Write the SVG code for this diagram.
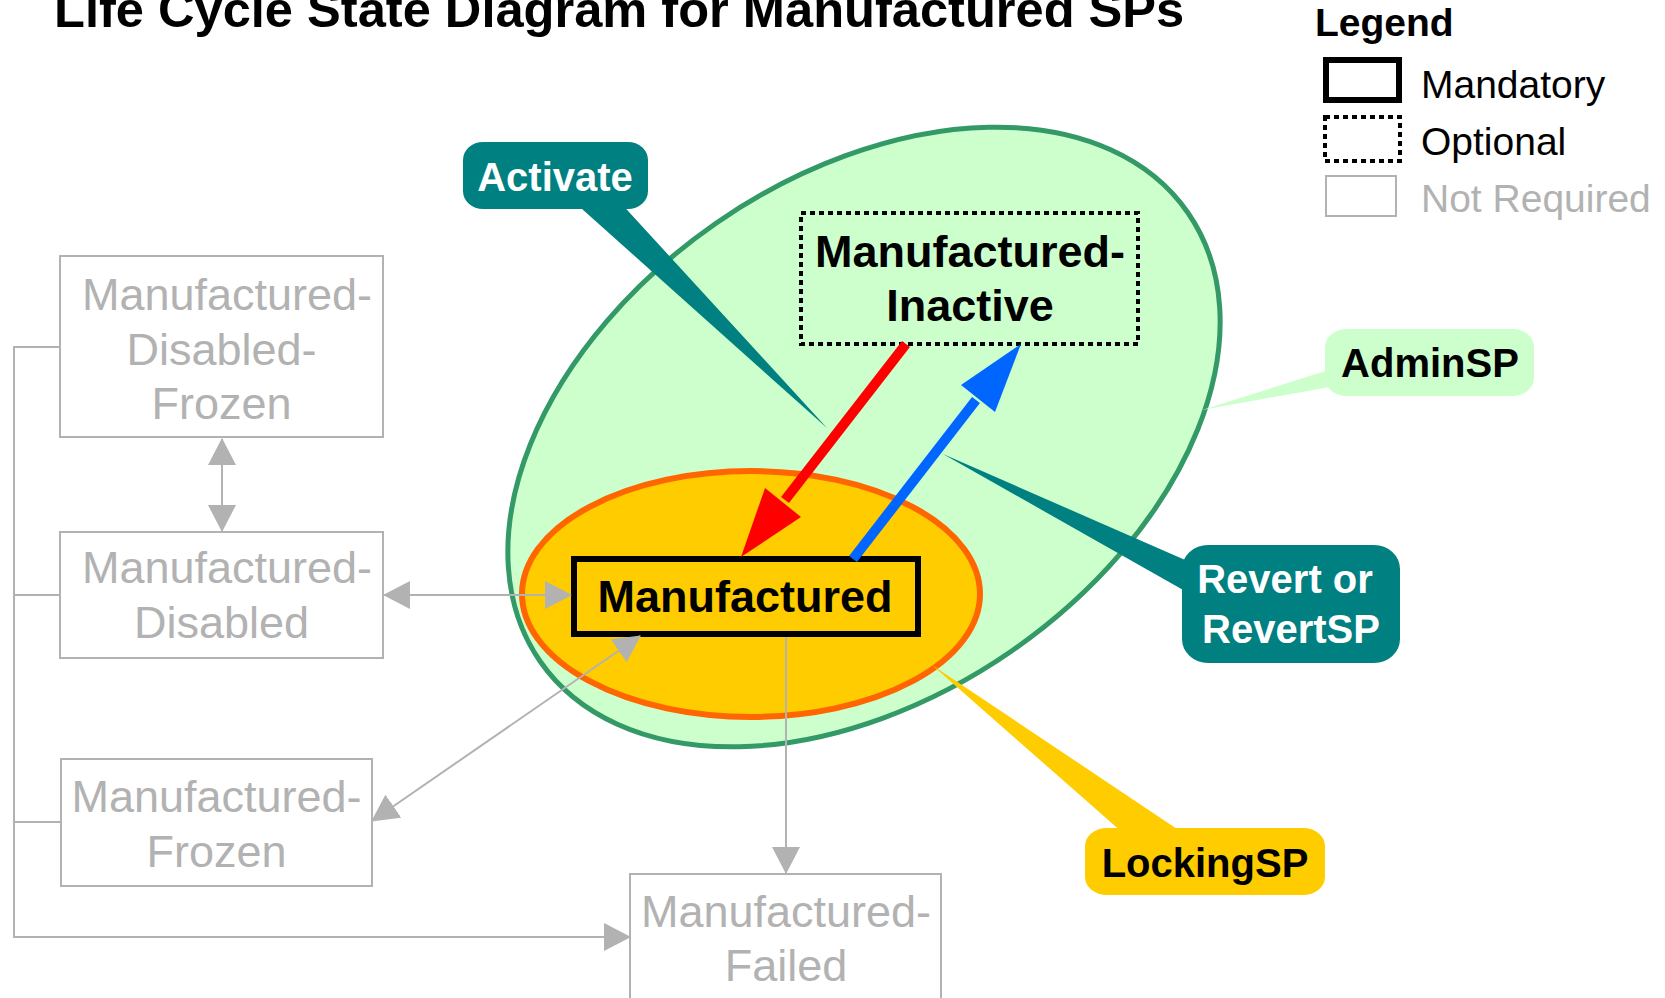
<svg xmlns="http://www.w3.org/2000/svg" width="1665" height="998" viewBox="0 0 1665 998">
<style>
text{font-family:"Liberation Sans",Arial,sans-serif}
.b{font-weight:bold}
.g{fill:#B2B2B2;font-size:45px;text-anchor:middle}
.gbox{fill:#FFFFFF;stroke:#B2B2B2;stroke-width:2}
.gl{fill:none;stroke:#B2B2B2;stroke-width:2}
.cw{fill:#FFFFFF;font-size:40px;font-weight:bold;text-anchor:middle}
.ck{fill:#000000;font-size:40px;font-weight:bold;text-anchor:middle}
.lg{font-size:39px;fill:#000000}
</style>
<defs>
<marker id="ga" viewBox="0 0 27 28" refX="26" refY="14" markerWidth="27" markerHeight="28" markerUnits="userSpaceOnUse" orient="auto-start-reverse">
<path d="M0,0 L27,14 L0,28 z" fill="#B2B2B2"/>
</marker>
</defs>
<rect width="1665" height="998" fill="#FFFFFF"/>

<text id="title" x="54" y="27" class="b" font-size="50.6" fill="#000000">Life Cycle State Diagram for Manufactured SPs</text>

<g id="legend">
<text x="1315" y="36" class="b" font-size="39" fill="#000000">Legend</text>
<rect x="1326" y="60" width="73" height="40" fill="none" stroke="#000000" stroke-width="6"/>
<text x="1421" y="98" class="lg">Mandatory</text>
<rect x="1325" y="117" width="75" height="44" fill="none" stroke="#000000" stroke-width="4" stroke-dasharray="5 4"/>
<text x="1421" y="155" class="lg">Optional</text>
<rect x="1326" y="176" width="70" height="40" fill="none" stroke="#B2B2B2" stroke-width="2"/>
<text x="1421" y="212" class="lg" style="fill:#B2B2B2">Not Required</text>
</g>

<g id="adminsp-region">
<ellipse cx="864" cy="437" rx="394" ry="260" transform="rotate(-34.7 864 437)" fill="#CCFFCC" stroke="#339966" stroke-width="5"/>
</g>
<g id="lockingsp-region">
<ellipse cx="751" cy="594" rx="229" ry="123" fill="#FFCC00" stroke="#FF6600" stroke-width="6"/>
</g>

<g id="node-mdf">
<rect x="60" y="256" width="323" height="181" class="gbox"/>
<text x="227" y="310" class="g">Manufactured-</text>
<text x="221.5" y="365" class="g">Disabled-</text>
<text x="221.5" y="419" class="g">Frozen</text>
</g>
<g id="node-md">
<rect x="60" y="532" width="323" height="126" class="gbox"/>
<text x="227" y="583" class="g">Manufactured-</text>
<text x="221.5" y="638" class="g">Disabled</text>
</g>
<g id="node-mfz">
<rect x="61" y="759" width="311" height="127" class="gbox"/>
<text x="216.5" y="812" class="g">Manufactured-</text>
<text x="216.5" y="867" class="g">Frozen</text>
</g>
<g id="node-mfail">
<rect x="630" y="874" width="311" height="140" class="gbox"/>
<text x="786" y="927" class="g">Manufactured-</text>
<text x="786" y="981" class="g">Failed</text>
</g>

<g id="node-manufactured">
<rect x="574" y="559" width="344" height="75" fill="#FFCC00" stroke="#000000" stroke-width="6"/>
<text x="745" y="612" class="b" font-size="45" text-anchor="middle" fill="#000000">Manufactured</text>
</g>
<g id="node-inactive">
<rect x="801" y="213" width="337" height="131" fill="none" stroke="#000000" stroke-width="4" stroke-dasharray="5 4"/>
<text x="970" y="267" class="b" font-size="45" text-anchor="middle" fill="#000000">Manufactured-</text>
<text x="970" y="321" class="b" font-size="45" text-anchor="middle" fill="#000000">Inactive</text>
</g>

<g id="connectors">
<path class="gl" d="M222,439 L222,531" marker-start="url(#ga)" marker-end="url(#ga)"/>
<path class="gl" d="M384,595 L571,595" marker-start="url(#ga)" marker-end="url(#ga)"/>
<path class="gl" d="M372,821 L640,636" marker-start="url(#ga)" marker-end="url(#ga)"/>
<path class="gl" d="M786,637 L786,873" marker-end="url(#ga)"/>
<path class="gl" d="M60,347 H14 V937 H630" stroke-width="2.5" marker-end="url(#ga)"/>
<path class="gl" d="M14,595 H60"/>
<path class="gl" d="M14,822 H61"/>
<line x1="906" y1="344" x2="785" y2="500" stroke="#FF0000" stroke-width="10"/>
<polygon points="741,557 765,488 801,517" fill="#FF0000"/>
<line x1="853" y1="559" x2="976" y2="400" stroke="#0066FF" stroke-width="10"/>
<polygon points="1021,344 961,385 995,412" fill="#0066FF"/>
</g>

<g id="callout-activate">
<polygon points="572,200 618,200 827,428" fill="#008080"/>
<rect x="463" y="142" width="185" height="67" rx="20" ry="18" fill="#008080"/>
<text x="555" y="191" class="cw">Activate</text>
</g>
<g id="callout-adminsp">
<polygon points="1335,368 1335,386 1202,410" fill="#CCFFCC"/>
<rect x="1325" y="329" width="209" height="67" rx="22" ry="18" fill="#CCFFCC"/>
<text x="1430" y="377" class="ck">AdminSP</text>
</g>
<g id="callout-revert">
<polygon points="1192,563 1192,595 943,454" fill="#008080"/>
<rect x="1182" y="545" width="218" height="118" rx="26" ry="24" fill="#008080"/>
<text x="1285" y="593" class="cw">Revert or</text>
<text x="1291" y="643" class="cw">RevertSP</text>
</g>
<g id="callout-lockingsp">
<polygon points="1123,833 1183,833 932,665" fill="#FFCC00"/>
<rect x="1085" y="828" width="240" height="67" rx="22" ry="18" fill="#FFCC00"/>
<text x="1205" y="877" class="ck">LockingSP</text>
</g>
</svg>
